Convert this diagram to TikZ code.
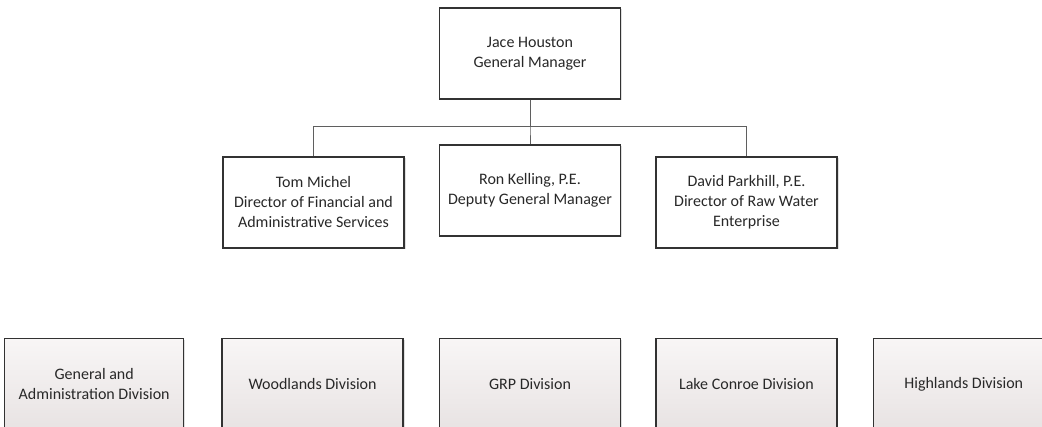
\documentclass[tikz,border=0pt]{standalone}
\usepackage{fontspec}
\setmainfont{Carlito}
\usetikzlibrary{positioning,shadows,trees}
\definecolor{boxline}{RGB}{50,50,50}
\definecolor{linkline}{RGB}{95,95,95}
\definecolor{divtop}{RGB}{248,246,246}
\definecolor{divbottom}{RGB}{232,227,227}
\definecolor{inktext}{RGB}{40,40,40}
\tikzset{
  basic/.style   = {draw=boxline, line width=1.4pt, rectangle, align=center,
                    minimum width=181pt, minimum height=91pt, inner sep=2pt,
                    font=\fontsize{16}{20}\selectfont, text=inktext,
                    drop shadow={shadow xshift=1.5pt, shadow yshift=-1.5pt,
                                 opacity=0.25}},
  root/.style    = {basic, fill=white},
  level 2/.style = {basic, fill=white},
  level 3/.style = {basic, top color=divtop, bottom color=divbottom}
}

\begin{document}
\begin{tikzpicture}[x=1pt, y=1pt,
  level 1/.style={sibling distance=216.5pt, level distance=149pt},
  edge from parent/.style={draw=linkline, line width=0.9pt},
  edge from parent path={(\tikzparentnode.south) -- ++(0,-27pt)
                         -| (\tikzchildnode.north)}]

\useasboundingbox (0,0) rectangle (1042,-427);
\clip (0,0) rectangle (1042,-427);

% general manager and the three directors below him
\node[root] (gm) at (530,-53.5) {Jace Houston\\General Manager}
  child {node[level 2] (c1) {Tom Michel\\Director of Financial and\\Administrative Services}}
  child {node[level 2, yshift=12pt] (c2) {Ron Kelling, P.E.\\Deputy General Manager}}
  child {node[level 2] (c3) {David Parkhill, P.E.\\Director of Raw Water\\Enterprise}};

% divisions, bottom row
\begin{scope}[every node/.style={level 3}]
\node [below=101pt of c2] (d3) {GRP Division};
\node [left=35pt of d3] (d2) {Woodlands Division};
\node [left=37pt of d2, minimum width=179pt] (d1) {General and\\Administration Division};
\node [right=34pt of d3] (d4) {Lake Conroe Division};
\node [right=35pt of d4] (d5) {Highlands Division};
\end{scope}
\end{tikzpicture}
\end{document}
